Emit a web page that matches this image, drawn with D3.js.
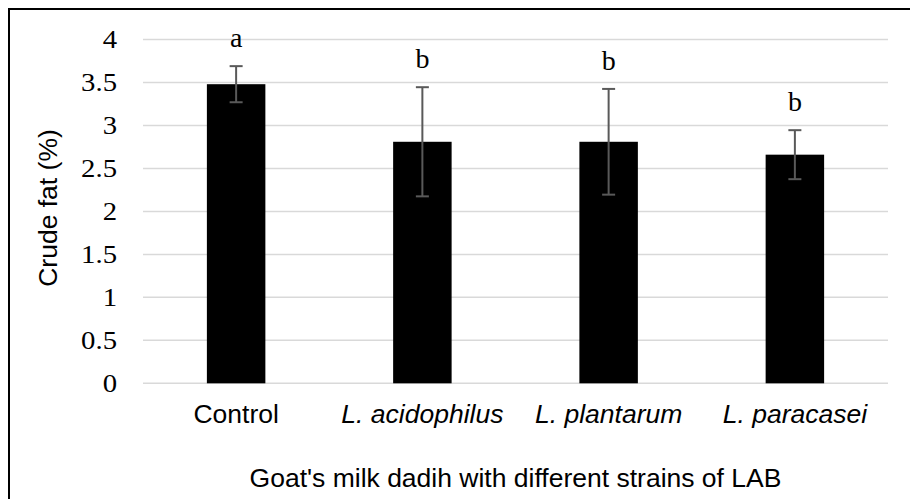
<!DOCTYPE html>
<html lang="en">
<head>
<meta charset="utf-8">
<title>Crude fat of goat's milk dadih</title>
<script src="https://d3js.org/d3.v7.min.js"></script>
<style>
  body { margin: 0; background: #fff; }
  .tick-lab { font-family: "Liberation Serif", "Times New Roman", serif; }
  .sans { font-family: "Liberation Sans", Arial, sans-serif; }
</style>
</head>
<body>
<script>
// data
var categories = ["Control", "L. acidophilus", "L. plantarum", "L. paracasei"];
var fatValues = [3.48, 2.81, 2.81, 2.66];
var fatErrors = [0.21, 0.635, 0.615, 0.285];
var letters = ["a", "b", "b", "b"];
var yTicks = [0, 0.5, 1, 1.5, 2, 2.5, 3, 3.5, 4];

var W = 910, H = 499;
var svg = d3.select("body").append("svg")
    .attr("width", W)
    .attr("height", H);

svg.append("rect").attr("width", W).attr("height", H).attr("fill", "#fff");

// outer frame (runs off the right and bottom of the picture)
svg.append("rect")
    .attr("x", 9).attr("y", 9)
    .attr("width", W + 20).attr("height", H + 20)
    .attr("fill", "none")
    .attr("stroke", "#000")
    .attr("stroke-width", 2);

var x = d3.scaleBand()
    .domain(categories)
    .range([143, 888])
    .paddingInner(0.686)
    .paddingOuter(0.343);

var y = d3.scaleLinear()
    .domain([0, 4])
    .range([383.3, 39.5]);

// gridlines
svg.append("g").selectAll("line")
    .data(yTicks)
    .enter().append("line")
    .attr("x1", 143).attr("x2", 888)
    .attr("y1", function(d) { return y(d); })
    .attr("y2", function(d) { return y(d); })
    .attr("stroke", "#d9d9d9")
    .attr("stroke-width", 1.5);

// y tick labels (the original glyphs are a bit wide, so stretch them)
svg.append("g").selectAll("text")
    .data(yTicks)
    .enter().append("text")
    .attr("class", "tick-lab")
    .attr("transform", function(d) { return "translate(117," + y(d) + ") scale(1.15,1)"; })
    .attr("dy", "0.34em")
    .attr("text-anchor", "end")
    .attr("font-size", 25)
    .attr("fill", "#000")
    .text(function(d) { return d; });

var rows = categories.map(function(c, i) {
    return { name: c, v: fatValues[i], e: fatErrors[i], letter: letters[i] };
});

// bars
svg.append("g").selectAll("rect")
    .data(rows)
    .enter().append("rect")
    .attr("x", function(d) { return x(d.name); })
    .attr("width", x.bandwidth())
    .attr("y", function(d) { return y(d.v); })
    .attr("height", function(d) { return y(0) - y(d.v); })
    .attr("fill", "#000");

// error bars
var eb = svg.append("g").attr("stroke", "#595959").attr("stroke-width", 2);
rows.forEach(function(d) {
    var cx = x(d.name) + x.bandwidth() / 2;
    eb.append("line").attr("x1", cx).attr("x2", cx)
        .attr("y1", y(d.v + d.e)).attr("y2", y(d.v - d.e));
    eb.append("line").attr("x1", cx - 6.5).attr("x2", cx + 6.5)
        .attr("y1", y(d.v + d.e)).attr("y2", y(d.v + d.e));
    eb.append("line").attr("x1", cx - 6.5).attr("x2", cx + 6.5)
        .attr("y1", y(d.v - d.e)).attr("y2", y(d.v - d.e));
});

// significance letters
svg.append("g").selectAll("text")
    .data(rows)
    .enter().append("text")
    .attr("class", "tick-lab")
    .attr("x", function(d) { return x(d.name) + x.bandwidth() / 2; })
    .attr("y", function(d) { return y(d.v + d.e) - 19; })
    .attr("text-anchor", "middle")
    .attr("font-size", 28)
    .attr("fill", "#000")
    .text(function(d) { return d.letter; });

// category labels, species names in italics
svg.append("g").selectAll("text")
    .data(rows)
    .enter().append("text")
    .attr("class", "sans")
    .attr("x", function(d) { return x(d.name) + x.bandwidth() / 2; })
    .attr("y", 423)
    .attr("text-anchor", "middle")
    .attr("font-size", 26.5)
    .attr("fill", "#000")
    .attr("font-style", function(d) { return d.name === "Control" ? "normal" : "italic"; })
    .text(function(d) { return d.name; });

// axis titles
svg.append("text")
    .attr("class", "sans")
    .attr("transform", "translate(57,208) rotate(-90)")
    .attr("text-anchor", "middle")
    .attr("font-size", 26.5)
    .attr("fill", "#000")
    .text("Crude fat (%)");

svg.append("text")
    .attr("class", "sans")
    .attr("x", 515.5)
    .attr("y", 487)
    .attr("text-anchor", "middle")
    .attr("font-size", 26.5)
    .attr("fill", "#000")
    .text("Goat's milk dadih with different strains of LAB");
</script>
</body>
</html>
